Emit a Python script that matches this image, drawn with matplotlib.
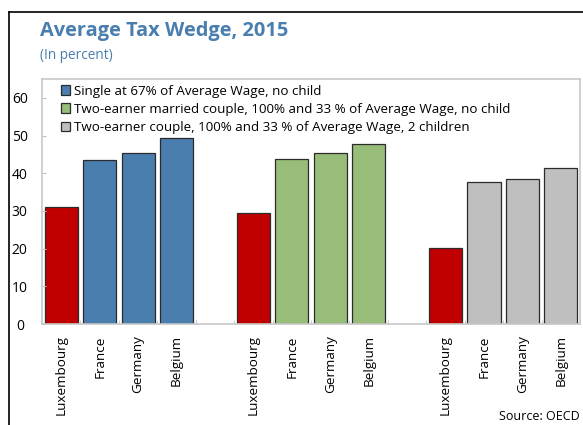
import matplotlib
matplotlib.use("Agg")
import matplotlib.pyplot as plt
from matplotlib.patches import Patch
from matplotlib.lines import Line2D
import numpy as np

plt.rcParams['font.family'] = ['Open Sans', 'DejaVu Sans']

countries = ["Luxembourg", "France", "Germany", "Belgium"]
series_names = ["Single at 67% of Average Wage, no child",
                "Two-earner married couple, 100% and 33 % of Average Wage, no child",
                "Two-earner couple, 100% and 33 % of Average Wage, 2 children"]
single = [31.0, 43.5, 45.3, 49.4]
married_no_child = [29.4, 43.7, 45.3, 47.7]
couple_2_children = [20.3, 37.7, 38.6, 41.3]

red = "#C00000"
colors = ["#4A7EAE", "#97BD78", "#BFBFBF"]
title_blue = "#4A7EAE"

fig = plt.figure(figsize=(5.83, 4.25), dpi=100)
ax = fig.add_axes([0.072, 0.2376, 0.923, 0.5765])

# three groups of four bars with one empty slot between groups
positions = []
labels = []
for g, vals in enumerate([single, married_no_child, couple_2_children]):
    start = g * 5
    for i, v in enumerate(vals):
        x = start + i
        c = red if i == 0 else colors[g]
        ax.bar(x, v, width=0.86, color=c, edgecolor="#2b2b2b", linewidth=0.9)
        positions.append(x)
        labels.append(countries[i])

ax.set_xlim(-0.5, 13.5)
ax.set_ylim(0, 65)
ax.set_yticks(np.arange(0, 61, 10))
ax.set_xticks(positions)
ax.set_xticklabels(labels, rotation=90, fontsize=9.7)
ax.set_xticks(np.arange(-0.5, 14, 1), minor=True)
ax.tick_params(axis='x', which='major', length=0, pad=8)
ax.tick_params(axis='x', which='minor', direction='in', length=3, color='#BFBFBF')
ax.tick_params(axis='y', direction='in', length=3, color='#BFBFBF', labelsize=10, pad=16)
for t in ax.get_yticklabels():
    t.set_horizontalalignment('center')

for s in ax.spines.values():
    s.set_color('#C8C8C8')
    s.set_linewidth(1.2)

handles = [Patch(facecolor=c, edgecolor="#2b2b2b", linewidth=0.9) for c in colors]
ax.legend(handles, series_names, loc='upper left', bbox_to_anchor=(0.02, 1.01),
          frameon=False, fontsize=9.6, handlelength=0.72, handleheight=0.72,
          handletextpad=0.25, labelspacing=0.4, borderaxespad=0.2)

fig.text(0.069, 0.95, "Average Tax Wedge, 2015", color=title_blue, fontsize=14.4,
         fontweight='bold', va='top', ha='left')
fig.text(0.069, 0.887, "(In percent)", color=title_blue, fontsize=9.8, va='top', ha='left')
fig.text(0.995, 0.004, "Source: OECD", fontsize=9, va='bottom', ha='right')

# frame lines on the left and top edges
fig.add_artist(Line2D([0.0146, 0.0146], [0.0, 0.9706], color='black', linewidth=1.2,
                      transform=fig.transFigure))
fig.add_artist(Line2D([0.0146, 1.0], [0.9706, 0.9706], color='black', linewidth=1.2,
                      transform=fig.transFigure))

fig.savefig("out.png", dpi=100)
